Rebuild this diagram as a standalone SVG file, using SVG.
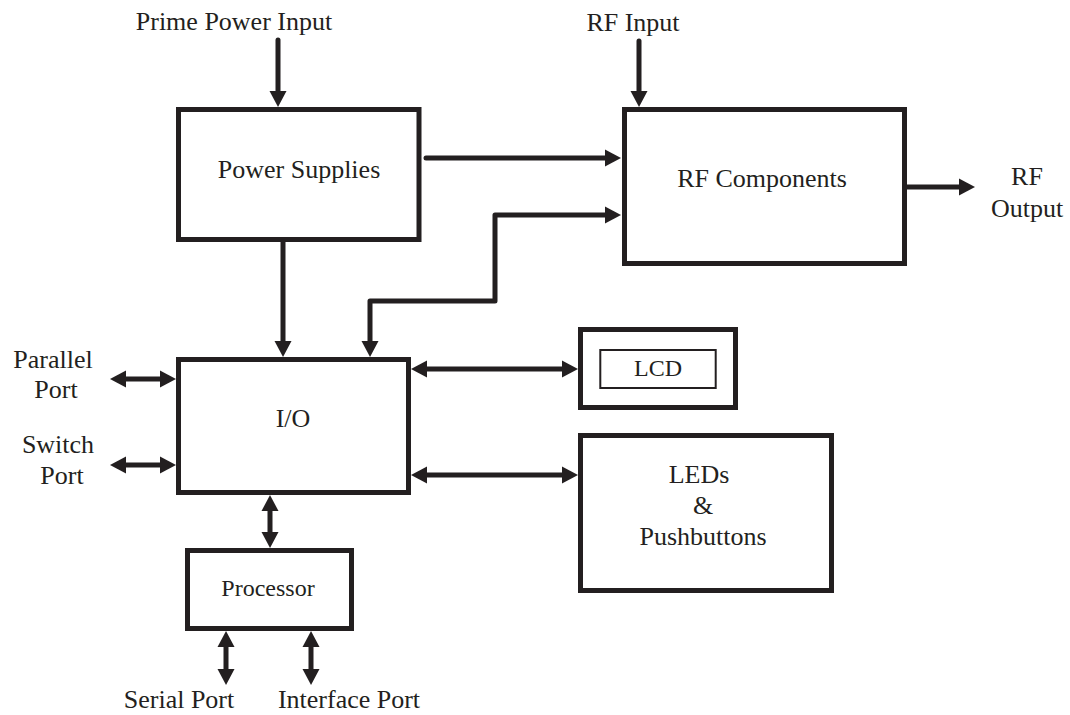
<svg xmlns="http://www.w3.org/2000/svg" width="1070" height="715" viewBox="0 0 1070 715">
  <style>
    .box { fill: none; stroke: #231f20; stroke-width: 5; }
    .thin { fill: none; stroke: #231f20; stroke-width: 2; }
    .wire { fill: none; stroke: #231f20; stroke-width: 5; stroke-linecap: round; stroke-linejoin: round; }
    text { font-family: "Liberation Serif", "Times New Roman", serif; font-size: 26px; fill: #231f20; text-anchor: middle; }
    .sm { font-size: 24px; }
  </style>
  <defs>
    <marker id="ah" markerUnits="userSpaceOnUse" markerWidth="20" markerHeight="20" orient="auto-start-reverse" overflow="visible" refX="0" refY="0">
      <path d="M-4,-8.5 L12,0 L-4,8.5 Z" fill="#231f20"/>
    </marker>
  </defs>
  <rect width="1070" height="715" fill="#ffffff"/>

  <g id="power-supplies">
    <rect class="box" x="178.5" y="109.5" width="240.5" height="130"/>
    <text x="299" y="178">Power Supplies</text>
  </g>
  <g id="rf-components">
    <rect class="box" x="624.5" y="109.5" width="280" height="154"/>
    <text x="762" y="187">RF Components</text>
  </g>
  <g id="io">
    <rect class="box" x="178.5" y="359.5" width="230" height="133"/>
    <text x="293" y="427">I/O</text>
  </g>
  <g id="processor">
    <rect class="box" x="187.5" y="550.5" width="164" height="78"/>
    <text class="sm" x="268" y="596">Processor</text>
  </g>
  <g id="lcd">
    <rect class="box" x="580.5" y="329.5" width="155" height="78"/>
    <rect class="thin" x="600.3" y="350" width="115.4" height="38"/>
    <text class="sm" x="658" y="376">LCD</text>
  </g>
  <g id="leds">
    <rect class="box" x="580.5" y="435.5" width="251" height="155"/>
    <text x="699" y="483">LEDs</text>
    <text x="703" y="514">&amp;</text>
    <text x="703" y="545">Pushbuttons</text>
  </g>

  <g id="labels">
    <text x="234" y="30">Prime Power Input</text>
    <text x="633" y="31">RF Input</text>
    <text x="1027" y="185">RF</text>
    <text x="1027" y="217">Output</text>
    <text x="53" y="368">Parallel</text>
    <text x="56" y="398">Port</text>
    <text x="58" y="453">Switch</text>
    <text x="62" y="484">Port</text>
    <text x="179" y="708">Serial Port</text>
    <text x="349" y="708">Interface Port</text>
  </g>

  <g id="connectors">
    <path class="wire" d="M278,40 L278,95" marker-end="url(#ah)"/>
    <path class="wire" d="M639,41 L639,95" marker-end="url(#ah)"/>
    <path class="wire" d="M426,158 L609,158" marker-end="url(#ah)"/>
    <path class="wire" d="M370,345 L370,301 L495,301 L495,215 L609,215" marker-start="url(#ah)" marker-end="url(#ah)"/>
    <path class="wire" d="M283,242 L283,345" marker-end="url(#ah)"/>
    <path class="wire" d="M122,379 L164,379" marker-start="url(#ah)" marker-end="url(#ah)"/>
    <path class="wire" d="M122,465 L164,465" marker-start="url(#ah)" marker-end="url(#ah)"/>
    <path class="wire" d="M270,507 L270,536" marker-start="url(#ah)" marker-end="url(#ah)"/>
    <path class="wire" d="M423,369 L566,369" marker-start="url(#ah)" marker-end="url(#ah)"/>
    <path class="wire" d="M423,475 L566,475" marker-start="url(#ah)" marker-end="url(#ah)"/>
    <path class="wire" d="M907,187 L963,187" marker-end="url(#ah)"/>
    <path class="wire" d="M226,643 L226,673" marker-start="url(#ah)" marker-end="url(#ah)"/>
    <path class="wire" d="M311,643 L311,673" marker-start="url(#ah)" marker-end="url(#ah)"/>
  </g>
</svg>
